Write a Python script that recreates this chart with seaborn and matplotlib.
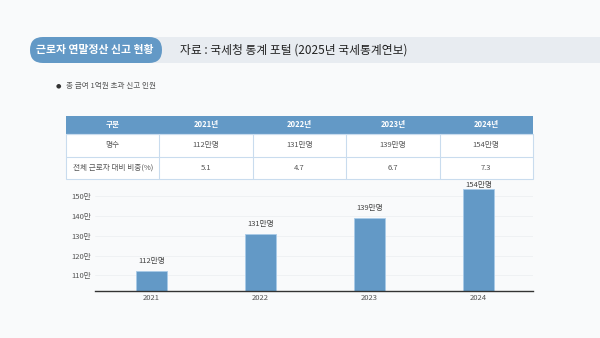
import matplotlib
matplotlib.use("Agg")
import matplotlib.pyplot as plt
from matplotlib.patches import FancyBboxPatch, Rectangle
import seaborn as sns
import pandas as pd

years = ["2021", "2022", "2023", "2024"]
counts = [112, 131, 139, 154]
ratios = [5.1, 4.7, 6.7, 7.3]
yticks = [110, 120, 130, 140, 150]
title = "근로자 연말정산 신고 현황"
source = "자료 : 국세청 통계 포털 (2025년 국세통계연보)"
bullet = "총 급여 1억원 초과 신고 인원"
row_labels = ["구분", "명수", "전체 근로자 대비 비중(%)"]

sns.set_theme(style="white")
plt.rcParams['font.family'] = ['Noto Sans CJK KR', 'DejaVu Sans']

W, H = 600, 338
BG = "#f9fafb"
BLUE = "#6399c6"
fig = plt.figure(figsize=(6, 3.38), dpi=100, facecolor=BG)

def fx(x): return x / W
def fy(y): return 1 - y / H

# header band
fig.patches.append(Rectangle((fx(140), fy(63)), fx(600) - fx(140), (63 - 37) / H,
                             transform=fig.transFigure, facecolor="#e8ecf1", edgecolor="none"))
fig.patches.append(FancyBboxPatch((fx(30), fy(63)), fx(162) - fx(30), (63 - 37) / H,
                                  boxstyle="round,pad=0,rounding_size=0.0215",
                                  mutation_aspect=W / H,
                                  transform=fig.transFigure, facecolor=BLUE, edgecolor="none"))
fig.text(fx(95), fy(50), title, ha="center", va="center", color="white",
         fontsize=7.8, fontweight="bold")
fig.text(fx(180), fy(50), source, ha="left", va="center", color="#222222", fontsize=8.5)

# bullet
fig.text(fx(58), fy(86), "●", ha="center", va="center", color="#333333", fontsize=4.5,
         family=['DejaVu Sans'])
fig.text(fx(66), fy(86), bullet, ha="left", va="center", color="#555555", fontsize=5.5)

# table
tx0, tx1 = 66, 533
rows_y = [116, 134, 157, 179]
ncol = 5
cw = (tx1 - tx0) / ncol
fig.patches.append(Rectangle((fx(tx0), fy(rows_y[1])), fx(tx1) - fx(tx0), (rows_y[1] - rows_y[0]) / H,
                             transform=fig.transFigure, facecolor=BLUE, edgecolor="none"))
fig.patches.append(Rectangle((fx(tx0), fy(rows_y[3])), fx(tx1) - fx(tx0), (rows_y[3] - rows_y[1]) / H,
                             transform=fig.transFigure, facecolor="white", edgecolor="#c9dcee", lw=0.8))
for yy in rows_y[1:3]:
    fig.add_artist(plt.Line2D([fx(tx0), fx(tx1)], [fy(yy), fy(yy)], transform=fig.transFigure,
                              color="#c9dcee", lw=0.8))
for i in range(1, ncol):
    xx = tx0 + i * cw
    fig.add_artist(plt.Line2D([fx(xx), fx(xx)], [fy(rows_y[1]), fy(rows_y[3])],
                              transform=fig.transFigure, color="#c9dcee", lw=0.8))
header = [row_labels[0]] + [y + "년" for y in years]
r1 = [row_labels[1]] + [f"{c}만명" for c in counts]
r2 = [row_labels[2]] + [f"{r}" for r in ratios]
for ri, row in enumerate([header, r1, r2]):
    yc = (rows_y[ri] + rows_y[ri + 1]) / 2
    for ci, txt in enumerate(row):
        xc = tx0 + (ci + 0.5) * cw
        if ri == 0:
            fig.text(fx(xc), fy(yc), txt, ha="center", va="center", color="white",
                     fontsize=5.5, fontweight="bold")
        else:
            fig.text(fx(xc), fy(yc), txt, ha="center", va="center", color="#555555",
                     fontsize=5.5)

# bar chart
ax_l, ax_r, ax_b, ax_t = 95, 533, 291, 185
ax = fig.add_axes([fx(ax_l), fy(ax_b), fx(ax_r) - fx(ax_l), (ax_b - ax_t) / H])
ax.set_facecolor("none")
df = pd.DataFrame({"year": years, "count": counts})
sns.barplot(data=df, x="year", y="count", ax=ax, color=BLUE, width=0.28,
            saturation=1, edgecolor="#a9cbe8", linewidth=0.6)
ymin, ymax = 102, 155.8
ax.set_ylim(ymin, ymax)
ax.set_xlim(-0.52, 3.5)
ax.set_yticks(yticks)
ax.set_yticklabels([f"{v}만" for v in yticks])
ax.yaxis.grid(True, color="#eef0f2", lw=0.6)
ax.set_axisbelow(True)
ax.tick_params(axis="both", length=0, labelsize=5.5, colors="#555555", pad=2)
ax.tick_params(axis="y", pad=3)
ax.set_xlabel("")
ax.set_ylabel("")
for s in ["top", "right", "left"]:
    ax.spines[s].set_visible(False)
ax.spines["bottom"].set_color("#333333")
ax.spines["bottom"].set_linewidth(1.0)
for i, c in enumerate(counts):
    ax.text(i, min(c + 5, ymax), f"{c}만명", ha="center", va="center",
            fontsize=5.5, color="#444444", clip_on=False)

fig.savefig("out.png", dpi=100, facecolor=BG)
